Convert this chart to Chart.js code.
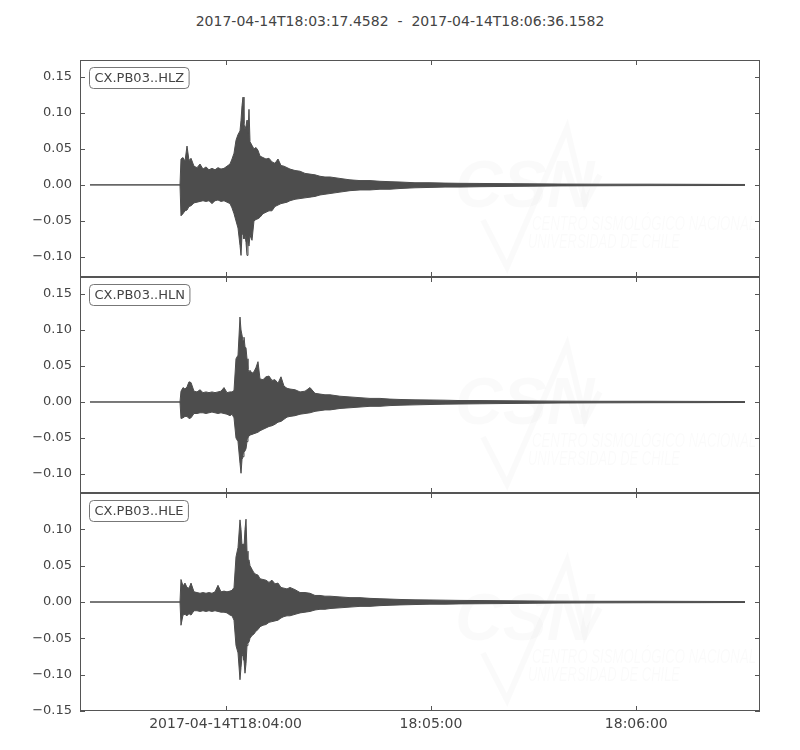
<!DOCTYPE html>
<html>
<head>
<meta charset="utf-8">
<script src="https://cdn.jsdelivr.net/npm/chart.js@4.4.1/dist/chart.umd.min.js"></script>
<style>
  body{margin:0;background:#fff;}
  #wrap{position:relative;width:800px;height:750px;overflow:hidden;}
  #title{position:absolute;left:0;top:13px;width:800px;text-align:center;font:14px "DejaVu Sans";color:#444;}
  canvas{position:absolute;left:0;}
</style>
</head>
<body>
<div id="wrap">
  <div id="title">2017-04-14T18:03:17.4582&nbsp; - &nbsp;2017-04-14T18:06:36.1582</div>
  <canvas id="c1" width="800" height="257" style="top:40px"></canvas>
  <canvas id="c2" width="800" height="256" style="top:257px"></canvas>
  <canvas id="c3" width="800" height="277" style="top:473px"></canvas>
</div>
<script>
// seconds after 2017-04-14T18:03:17.4582
const startSec = 18*3600 + 3*60 + 17.4582;
const endOffset = 198.7;
const xTickSecs = [42.5418, 102.5418, 162.5418];
const xTickLabels = ['2017-04-14T18:04:00', '18:05:00', '18:06:00'];

const traceNames = ['CX.PB03..HLZ', 'CX.PB03..HLN', 'CX.PB03..HLE'];

// envelope of each trace (max / min) at these times
const T = [2.92, 29.22, 29.51, 30.10, 30.68, 31.27, 31.85, 32.44, 33.31, 34.19,
  35.07, 35.94, 36.82, 37.69, 38.57, 39.45, 40.32, 41.20, 42.08, 42.95,
  43.83, 44.42, 45.00, 45.58, 46.17, 46.75, 47.05, 47.34, 47.63, 47.92,
  48.21, 48.51, 48.80, 49.09, 49.38, 49.68, 50.26, 50.84, 51.43, 52.01,
  52.60, 53.47, 54.35, 55.23, 56.10, 56.98, 57.86, 58.73, 59.61, 60.49,
  61.36, 62.83, 64.29, 65.75, 67.21, 68.67, 70.13, 71.59, 73.05, 75.97,
  78.90, 81.82, 84.74, 87.66, 90.59, 93.51, 97.89, 102.27, 106.66, 111.04,
  116.88, 122.73, 131.49, 140.26, 151.95, 166.56, 181.17, 194.32];

const zHi = [0, 0, 0.036, 0.038, 0.033, 0.054, 0.034, 0.037, 0.026, 0.024,
  0.029, 0.022, 0.025, 0.021, 0.023, 0.021, 0.024, 0.022, 0.023, 0.026,
  0.029, 0.036, 0.044, 0.062, 0.070, 0.075, 0.090, 0.110, 0.122, 0.085,
  0.078, 0.082, 0.090, 0.072, 0.105, 0.060, 0.055, 0.050, 0.052, 0.048,
  0.040, 0.038, 0.036, 0.037, 0.032, 0.030, 0.036, 0.027, 0.026, 0.024,
  0.022, 0.020, 0.019, 0.016, 0.015, 0.014, 0.012, 0.011, 0.011, 0.009,
  0.007, 0.006, 0.006, 0.005, 0.0045, 0.004, 0.003, 0.003, 0.0025, 0.0022,
  0.002, 0.0018, 0.0015, 0.0012, 0.001, 0.001, 0.0008, 0.0006];
const zLo = [0, 0, -0.043, -0.040, -0.036, -0.035, -0.030, -0.029, -0.025, -0.024,
  -0.023, -0.022, -0.023, -0.022, -0.026, -0.022, -0.021, -0.023, -0.022, -0.024,
  -0.026, -0.032, -0.040, -0.050, -0.060, -0.084, -0.098, -0.070, -0.066, -0.075,
  -0.070, -0.080, -0.098, -0.075, -0.085, -0.070, -0.077, -0.050, -0.048, -0.047,
  -0.045, -0.040, -0.038, -0.036, -0.036, -0.030, -0.028, -0.026, -0.025, -0.024,
  -0.022, -0.020, -0.019, -0.018, -0.017, -0.016, -0.014, -0.013, -0.012, -0.010,
  -0.008, -0.007, -0.007, -0.006, -0.006, -0.005, -0.004, -0.0035, -0.003, -0.003,
  -0.0025, -0.0022, -0.0018, -0.0014, -0.0012, -0.001, -0.0009, -0.0007];

const nHi = [0, 0, 0.015, 0.020, 0.018, 0.021, 0.028, 0.027, 0.015, 0.014,
  0.017, 0.013, 0.014, 0.013, 0.014, 0.013, 0.014, 0.015, 0.020, 0.013,
  0.014, 0.014, 0.016, 0.060, 0.065, 0.118, 0.100, 0.093, 0.085, 0.090,
  0.077, 0.075, 0.060, 0.045, 0.042, 0.044, 0.040, 0.042, 0.048, 0.056,
  0.032, 0.031, 0.035, 0.036, 0.030, 0.031, 0.026, 0.035, 0.022, 0.019,
  0.018, 0.017, 0.014, 0.015, 0.020, 0.012, 0.011, 0.010, 0.010, 0.008,
  0.007, 0.006, 0.005, 0.005, 0.004, 0.0035, 0.003, 0.0028, 0.0025, 0.002,
  0.002, 0.0018, 0.0015, 0.0012, 0.001, 0.001, 0.0008, 0.0006];
const nLo = [0, 0, -0.023, -0.022, -0.020, -0.020, -0.023, -0.022, -0.016, -0.016,
  -0.015, -0.015, -0.016, -0.015, -0.014, -0.015, -0.016, -0.015, -0.016, -0.017,
  -0.019, -0.017, -0.022, -0.050, -0.055, -0.085, -0.099, -0.080, -0.076, -0.070,
  -0.068, -0.065, -0.055, -0.050, -0.047, -0.046, -0.045, -0.044, -0.043, -0.042,
  -0.040, -0.038, -0.036, -0.034, -0.033, -0.031, -0.028, -0.027, -0.024, -0.021,
  -0.020, -0.019, -0.017, -0.016, -0.015, -0.013, -0.012, -0.011, -0.011, -0.009,
  -0.008, -0.007, -0.006, -0.006, -0.005, -0.0045, -0.004, -0.0035, -0.003, -0.0028,
  -0.0025, -0.0022, -0.0018, -0.0014, -0.0012, -0.001, -0.0009, -0.0007];

const eHi = [0, 0, 0.031, 0.022, 0.026, 0.020, 0.019, 0.026, 0.014, 0.013,
  0.012, 0.013, 0.012, 0.013, 0.012, 0.014, 0.023, 0.014, 0.015, 0.014,
  0.015, 0.016, 0.020, 0.062, 0.075, 0.113, 0.100, 0.078, 0.080, 0.075,
  0.100, 0.114, 0.070, 0.055, 0.058, 0.050, 0.045, 0.040, 0.038, 0.037,
  0.032, 0.031, 0.030, 0.027, 0.030, 0.025, 0.026, 0.020, 0.019, 0.018,
  0.020, 0.017, 0.013, 0.013, 0.012, 0.009, 0.009, 0.008, 0.008, 0.007,
  0.006, 0.006, 0.005, 0.0045, 0.004, 0.0035, 0.003, 0.0028, 0.0025, 0.0022,
  0.002, 0.0018, 0.0015, 0.0012, 0.001, 0.001, 0.0008, 0.0006];
const eLo = [0, 0, -0.032, -0.018, -0.017, -0.019, -0.016, -0.018, -0.012, -0.012,
  -0.013, -0.012, -0.013, -0.012, -0.013, -0.012, -0.013, -0.014, -0.014, -0.015,
  -0.018, -0.019, -0.025, -0.060, -0.070, -0.107, -0.090, -0.075, -0.072, -0.080,
  -0.098, -0.085, -0.060, -0.057, -0.055, -0.050, -0.046, -0.044, -0.040, -0.038,
  -0.034, -0.032, -0.031, -0.028, -0.027, -0.026, -0.025, -0.022, -0.020, -0.019,
  -0.019, -0.017, -0.015, -0.014, -0.013, -0.011, -0.010, -0.010, -0.009, -0.008,
  -0.007, -0.006, -0.006, -0.005, -0.0045, -0.004, -0.0035, -0.003, -0.003, -0.0026,
  -0.0024, -0.0022, -0.0018, -0.0014, -0.0012, -0.001, -0.0009, -0.0007];

const yRanges = [[-0.128, 0.1736], [-0.1264, 0.1736], [-0.15, 0.15]];
const yTicks = [[-0.10, -0.05, 0, 0.05, 0.10, 0.15], [-0.10, -0.05, 0, 0.05, 0.10, 0.15], [-0.15, -0.10, -0.05, 0, 0.05, 0.10]];

const waveColor = '#4d4d4d';
const frameColor = '#555';

Chart.defaults.font.family = 'DejaVu Sans';
Chart.defaults.font.size = 13;
Chart.defaults.color = '#444';

function line(ctx, x1, y1, x2, y2){
  ctx.beginPath(); ctx.moveTo(x1, y1); ctx.lineTo(x2, y2); ctx.stroke();
}

// frame, inward ticks, trace label and faint CSN watermark
const panelDeco = {
  id: 'panelDeco',
  beforeDatasetsDraw(chart){
    const {ctx, chartArea: a} = chart;
    ctx.save();
    ctx.fillStyle = 'rgba(0,0,0,0.018)';
    ctx.strokeStyle = 'rgba(0,0,0,0.018)';
    ctx.font = 'italic bold 66px "Liberation Sans"';
    ctx.textBaseline = 'alphabetic';
    ctx.fillText('CSN', a.left + 375, a.top + 147);
    ctx.lineWidth = 6;
    ctx.beginPath();
    ctx.moveTo(a.left + 403, a.top + 160);
    ctx.lineTo(a.left + 427, a.top + 207);
    ctx.lineTo(a.left + 487, a.top + 68);
    ctx.lineTo(a.left + 505, a.top + 143);
    ctx.lineTo(a.left + 520, a.top + 115);
    ctx.stroke();
    ctx.font = 'italic 20px "Liberation Sans"';
    ctx.fillText('CENTRO SISMOLÓGICO NACIONAL', a.left + 452, a.top + 170, 224);
    ctx.fillText('UNIVERSIDAD DE CHILE', a.left + 448, a.top + 188, 152);
    ctx.restore();
  },
  afterDatasetsDraw(chart, args, opts){
    const {ctx, chartArea: a, scales} = chart;
    ctx.save();
    ctx.strokeStyle = frameColor;
    ctx.lineWidth = 1;
    ctx.strokeRect(Math.round(a.left) + 0.5, Math.round(a.top) + 0.5, Math.round(a.right - a.left) - 1, Math.round(a.bottom - a.top) - 1);
    scales.y.ticks.forEach(t => {
      const py = Math.round(scales.y.getPixelForValue(t.value)) + 0.5;
      line(ctx, a.left, py, a.left + 5, py);
      line(ctx, a.right - 5, py, a.right, py);
    });
    xTickSecs.forEach(v => {
      const px = Math.round(scales.x.getPixelForValue(v)) + 0.5;
      line(ctx, px, a.top, px, a.top + 5);
      line(ctx, px, a.bottom - 5, px, a.bottom);
    });
    // label box
    ctx.font = '13px "DejaVu Sans"';
    const w = ctx.measureText(opts.label).width + 10;
    const bx = a.left + 9.5, by = a.top + 7.5, bh = 21;
    ctx.beginPath();
    ctx.roundRect(bx, by, w, bh, 4);
    ctx.fillStyle = '#fff';
    ctx.fill();
    ctx.strokeStyle = '#777';
    ctx.stroke();
    ctx.fillStyle = '#444';
    ctx.textBaseline = 'middle';
    ctx.fillText(opts.label, bx + 5, by + bh / 2 + 0.5);
    ctx.restore();
  }
};

function makePanel(id, idx, hi, lo, bottom){
  const pts = arr => T.map((t, i) => ({x: t, y: arr[i]}));
  return new Chart(document.getElementById(id), {
    type: 'line',
    data: {
      datasets: [
        {data: pts(hi), borderColor: waveColor, backgroundColor: waveColor, borderWidth: 1, pointRadius: 0, fill: '+1', tension: 0},
        {data: pts(lo), borderColor: waveColor, backgroundColor: waveColor, borderWidth: 1, pointRadius: 0, fill: false, tension: 0}
      ]
    },
    options: {
      responsive: false,
      animation: false,
      events: [],
      layout: {padding: {top: 20, right: 40, bottom: bottom ? 0 : 20, left: 0}},
      plugins: {
        legend: {display: false},
        tooltip: {enabled: false},
        panelDeco: {label: traceNames[idx]}
      },
      scales: {
        x: {
          type: 'linear',
          min: 0,
          max: endOffset,
          display: bottom,
          grid: {display: false, drawTicks: false},
          border: {display: false},
          afterBuildTicks: s => { s.ticks = xTickSecs.map(v => ({value: v})); },
          afterFit: s => { s.height = bottom ? 39 : 0; },
          ticks: {
            padding: 5,
            maxRotation: 0,
            autoSkip: false,
            font: {size: 14},
            callback: (v, i) => xTickLabels[i]
          }
        },
        y: {
          min: yRanges[idx][0],
          max: yRanges[idx][1],
          grid: {display: false, drawTicks: false},
          border: {display: false},
          afterBuildTicks: s => { s.ticks = yTicks[idx].map(v => ({value: v})); },
          afterFit: s => { s.width = 80; },
          ticks: {
            padding: 8,
            callback: v => (v < 0 ? '\u2212' : '') + Math.abs(v).toFixed(2)
          }
        }
      }
    },
    plugins: [panelDeco]
  });
}

makePanel('c1', 0, zHi, zLo, false);
makePanel('c2', 1, nHi, nLo, false);
makePanel('c3', 2, eHi, eLo, true);
</script>
</body>
</html>
